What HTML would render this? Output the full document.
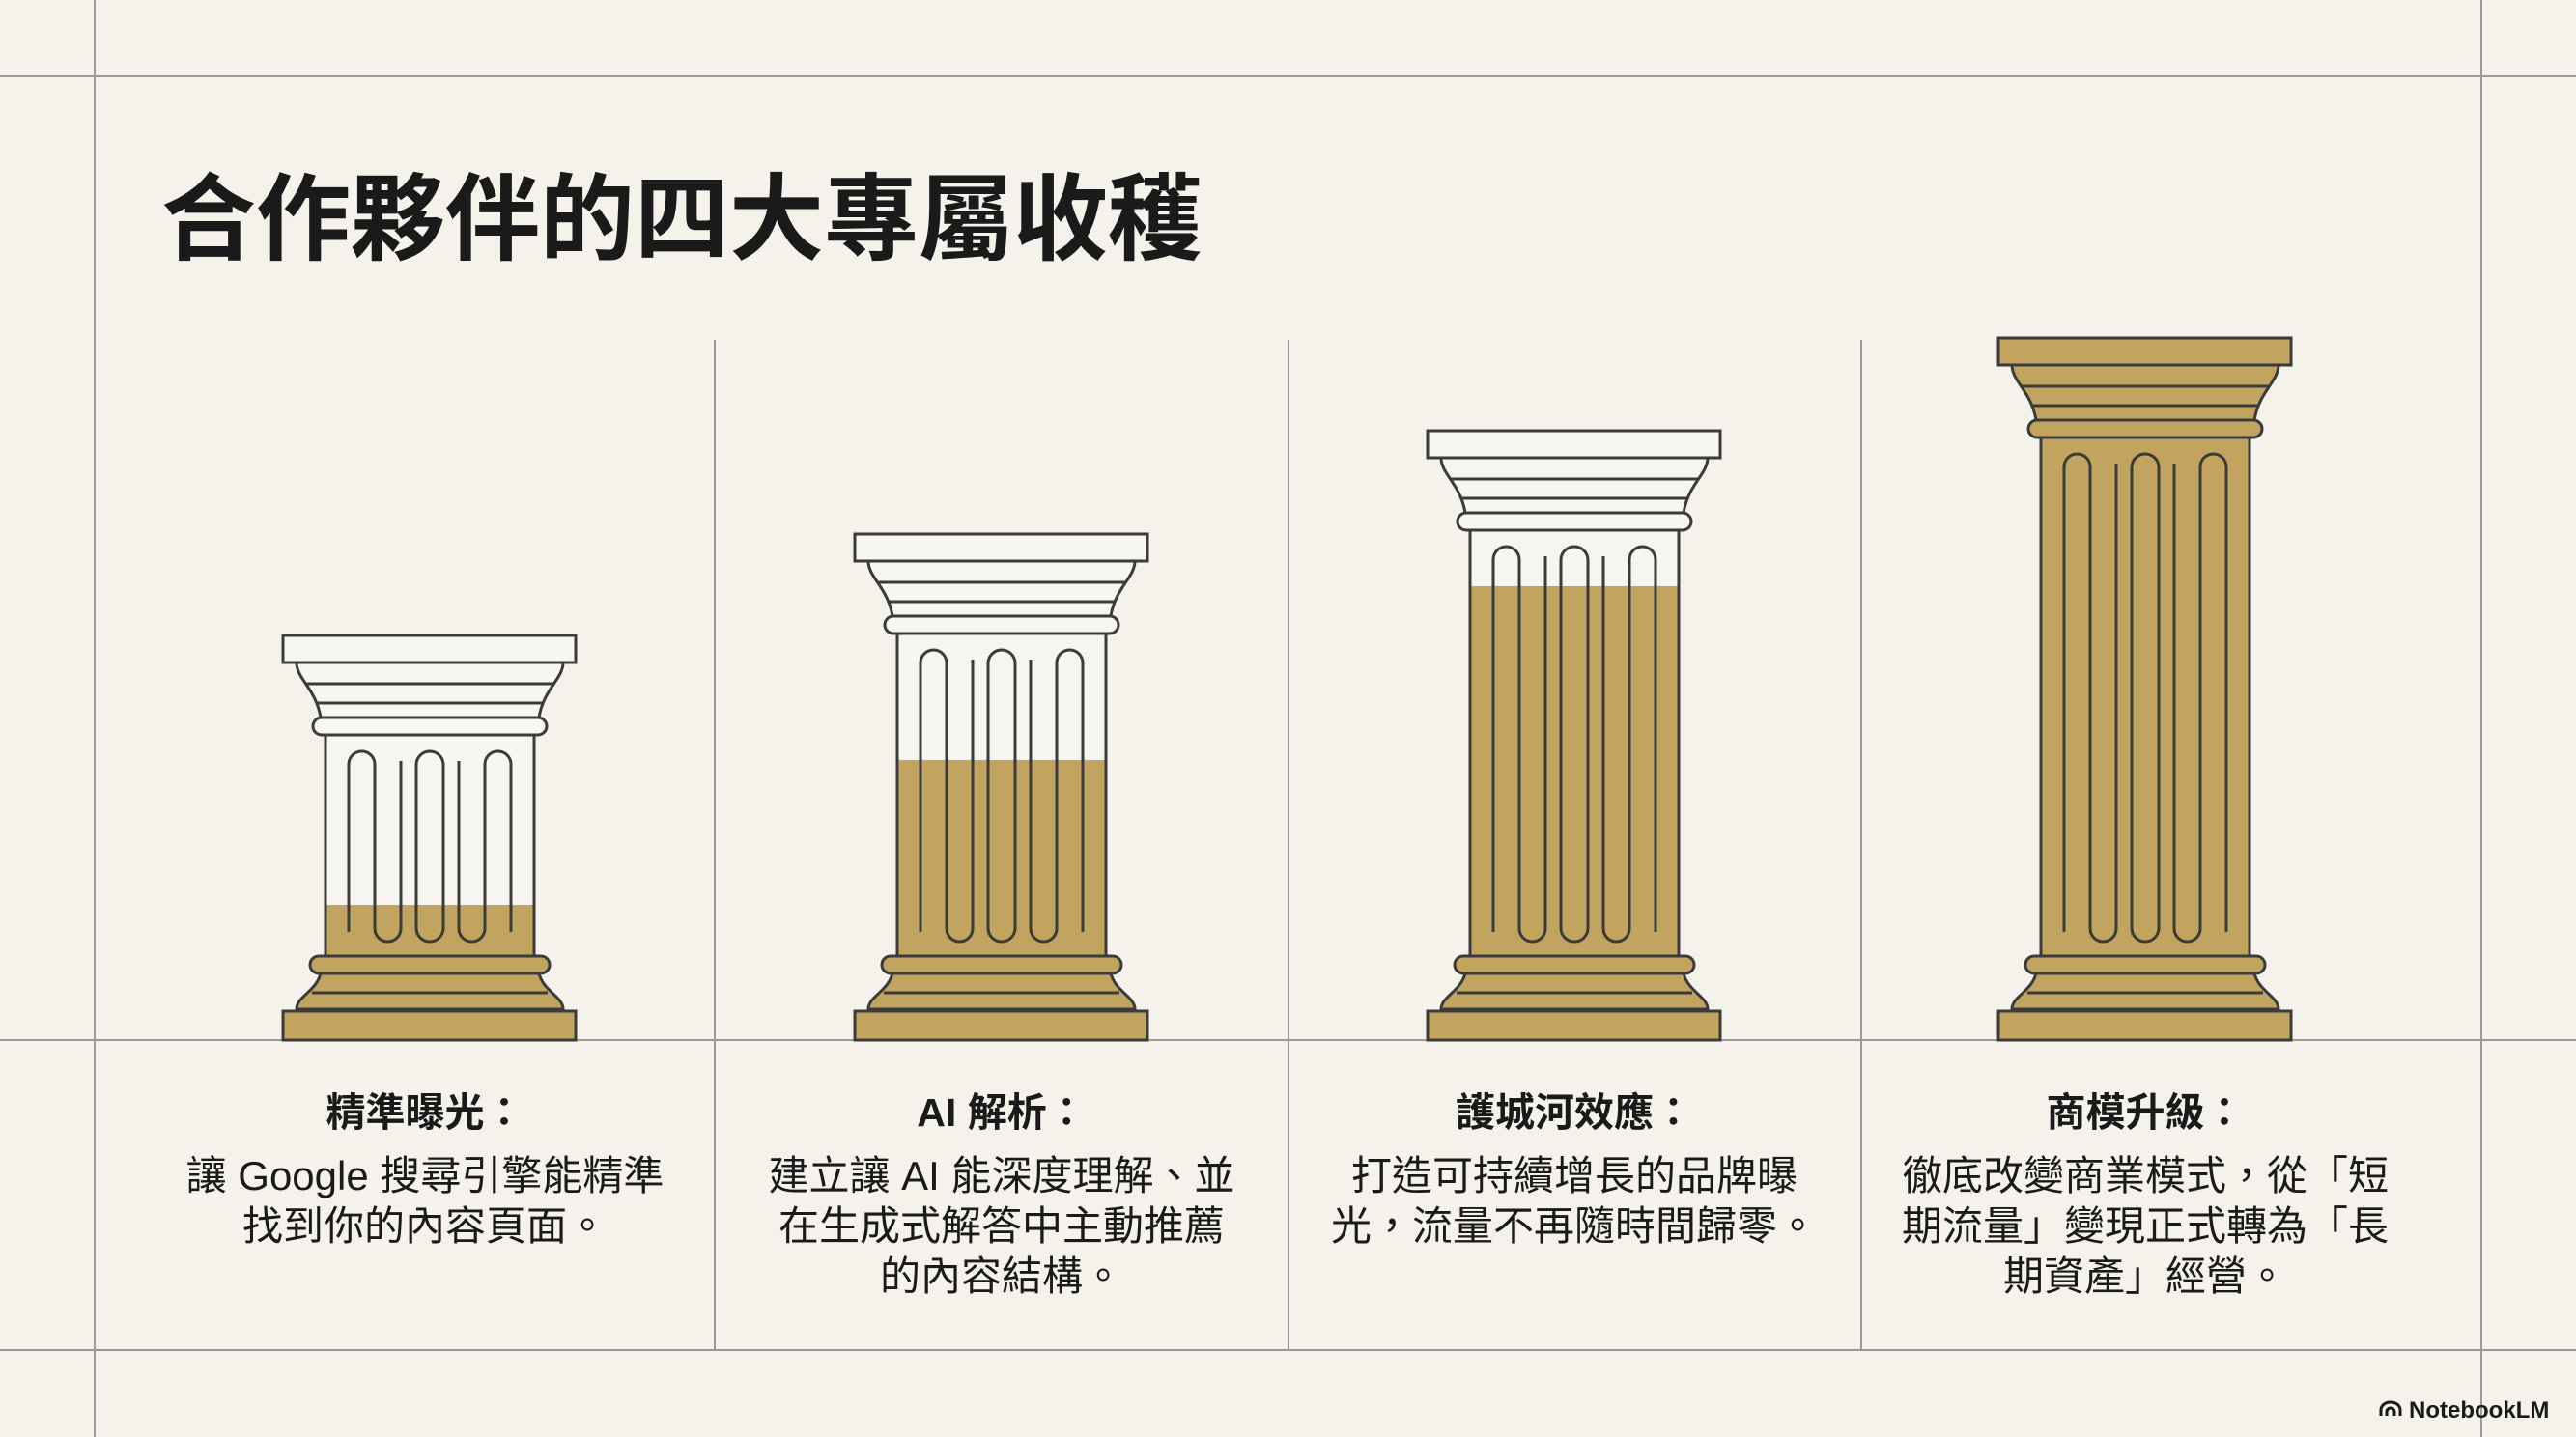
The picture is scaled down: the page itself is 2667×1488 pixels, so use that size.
<!DOCTYPE html>
<html><head><meta charset="utf-8">
<style>
html,body{margin:0;padding:0;background:#f4f2ec;}
svg{display:block;}
.t{font-family:"Liberation Sans","Noto Sans CJK TC",sans-serif;fill:#1a1a1a;}
</style></head><body>
<svg width="2667" height="1488" viewBox="0 0 2667 1488" xmlns="http://www.w3.org/2000/svg">
<rect width="2667" height="1488" fill="#f4f2eb"/>
<g stroke="#9c9a96" stroke-width="2">
<line x1="0" y1="79" x2="2667" y2="79"/>
<line x1="0" y1="1077" x2="2667" y2="1077"/>
<line x1="0" y1="1398" x2="2667" y2="1398"/>
<line x1="98" y1="0" x2="98" y2="1488"/>
<line x1="2569" y1="0" x2="2569" y2="1488"/>
<line x1="740" y1="352" x2="740" y2="1398"/>
<line x1="1334" y1="352" x2="1334" y2="1398"/>
<line x1="1927" y1="352" x2="1927" y2="1398"/>
</g>
<text class="t" x="167" y="261" font-size="98" font-weight="bold">合作夥伴的四大專屬收穫</text>

<defs>
<g id="cap">
<path d="M-138 28 H138 C138 45 118 55 113 85 H-113 C-118 55 -138 45 -138 28 Z"/>
<rect x="-152" y="0" width="303" height="28"/>
<line x1="-129" y1="50" x2="129" y2="50"/>
<line x1="-118" y1="70" x2="118" y2="70"/>
<rect x="-121" y="85" width="242" height="18" rx="9"/>
</g>
<g id="base">
<path d="M-113 -69 H113 C118 -50 138 -45 138 -32 H-138 C-138 -45 -118 -50 -113 -69 Z"/>
<line x1="-122" y1="-49" x2="122" y2="-49"/>
<rect x="-152" y="-30" width="303" height="30"/>
<rect x="-124" y="-87" width="248" height="18" rx="9"/>
</g>
</defs>

<g transform="translate(445,1077)" stroke="#3b3b3b" stroke-width="3">
<rect x="-108" y="-316" width="216" height="229" fill="#f6f5f1"/>
<rect x="-107" y="-140" width="214" height="53" fill="#c2a45e" stroke="none"/>
<rect x="-108" y="-316" width="216" height="229" fill="none"/>
<path fill="none" d="M-84 -112 V-285.5 A13.5 13.5 0 0 1 -57 -285.5 V-115.5 A13.5 13.5 0 0 0 -30 -115.5 V-289 M-14 -285 A14 14 0 0 1 14 -285 V-116 A14 14 0 0 1 -14 -116 Z M84 -112 V-285.5 A13.5 13.5 0 0 0 57 -285.5 V-115.5 A13.5 13.5 0 0 1 30 -115.5 V-289"/>
<use href="#base" fill="#c2a45e"/>
<g transform="translate(0,-419)"><use href="#cap" fill="#f7f6f2"/></g>
</g>
<g transform="translate(1037,1077)" stroke="#3b3b3b" stroke-width="3">
<rect x="-108" y="-421" width="216" height="334" fill="#f6f5f1"/>
<rect x="-107" y="-290" width="214" height="203" fill="#c2a45e" stroke="none"/>
<rect x="-108" y="-421" width="216" height="334" fill="none"/>
<path fill="none" d="M-84 -112 V-390.5 A13.5 13.5 0 0 1 -57 -390.5 V-115.5 A13.5 13.5 0 0 0 -30 -115.5 V-394 M-14 -390 A14 14 0 0 1 14 -390 V-116 A14 14 0 0 1 -14 -116 Z M84 -112 V-390.5 A13.5 13.5 0 0 0 57 -390.5 V-115.5 A13.5 13.5 0 0 1 30 -115.5 V-394"/>
<use href="#base" fill="#c2a45e"/>
<g transform="translate(0,-524)"><use href="#cap" fill="#f7f6f2"/></g>
</g>
<g transform="translate(1630,1077)" stroke="#3b3b3b" stroke-width="3">
<rect x="-108" y="-528" width="216" height="441" fill="#f6f5f1"/>
<rect x="-107" y="-470" width="214" height="383" fill="#c2a45e" stroke="none"/>
<rect x="-108" y="-528" width="216" height="441" fill="none"/>
<path fill="none" d="M-84 -112 V-497.5 A13.5 13.5 0 0 1 -57 -497.5 V-115.5 A13.5 13.5 0 0 0 -30 -115.5 V-501 M-14 -497 A14 14 0 0 1 14 -497 V-116 A14 14 0 0 1 -14 -116 Z M84 -112 V-497.5 A13.5 13.5 0 0 0 57 -497.5 V-115.5 A13.5 13.5 0 0 1 30 -115.5 V-501"/>
<use href="#base" fill="#c2a45e"/>
<g transform="translate(0,-631)"><use href="#cap" fill="#f7f6f2"/></g>
</g>
<g transform="translate(2221,1077)" stroke="#3b3b3b" stroke-width="3">
<rect x="-108" y="-624" width="216" height="537" fill="#c2a45e"/>
<path fill="none" d="M-84 -112 V-593.5 A13.5 13.5 0 0 1 -57 -593.5 V-115.5 A13.5 13.5 0 0 0 -30 -115.5 V-597 M-14 -593 A14 14 0 0 1 14 -593 V-116 A14 14 0 0 1 -14 -116 Z M84 -112 V-593.5 A13.5 13.5 0 0 0 57 -593.5 V-115.5 A13.5 13.5 0 0 1 30 -115.5 V-597"/>
<use href="#base" fill="#c2a45e"/>
<g transform="translate(0,-727)"><use href="#cap" fill="#c2a45e"/></g>
</g>

<g class="t" text-anchor="middle" font-size="42">
<text x="440" y="1166" font-weight="bold" font-size="41">精準曝光：</text>
<text x="440" y="1232">讓 Google 搜尋引擎能精準</text>
<text x="440" y="1284">找到你的內容頁面。</text>

<text x="1037" y="1166" font-weight="bold" font-size="41">AI 解析：</text>
<text x="1037" y="1232">建立讓 AI 能深度理解、並</text>
<text x="1037" y="1284">在生成式解答中主動推薦</text>
<text x="1037" y="1336">的內容結構。</text>

<text x="1630" y="1166" font-weight="bold" font-size="41">護城河效應：</text>
<text x="1630" y="1232">打造可持續增長的品牌曝</text>
<text x="1630" y="1284">光，流量不再隨時間歸零。</text>

<text x="2221" y="1166" font-weight="bold" font-size="41">商模升級：</text>
<text x="2221" y="1232">徹底改變商業模式，從「短</text>
<text x="2221" y="1284">期流量」變現正式轉為「長</text>
<text x="2221" y="1336">期資產」經營。</text>
</g>
<g transform="translate(2463,1452)" fill="none" stroke="#1a1a1a" stroke-width="3">
<path d="M2 14 V8 A10 8 0 0 1 22 8 V14 M8 14 V10 A4 4 0 0 1 16 10 V14"/>
</g>
<text class="t" x="2494" y="1468" font-size="24" font-weight="bold">NotebookLM</text>
</svg>
</body></html>
